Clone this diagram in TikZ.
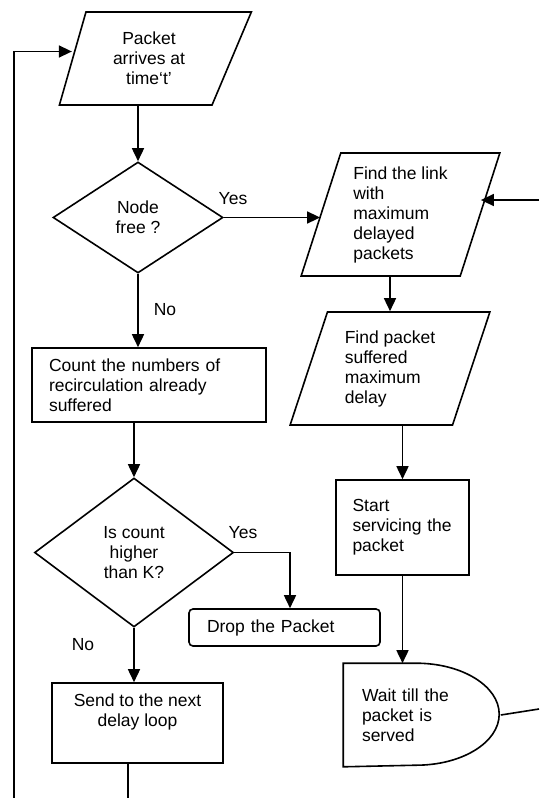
\documentclass[tikz,border=0pt]{standalone}
\usepackage{fontspec}
\setmainfont{Liberation Sans}
\usepackage{tikz}
\usetikzlibrary{shapes.geometric,arrows.meta}

\tikzset{
	arr/.style={-{Triangle[length=13pt,width=12pt]}},
	iobox/.style={draw,trapezium,trapezium left angle=72,trapezium right angle=108,trapezium stretches=true,inner sep=0pt,align=left},
	procbox/.style={draw,rectangle,inner sep=0pt,align=left},
	decision/.style={draw,diamond,inner sep=0pt,align=center}
}

\begin{document}
\begin{tikzpicture}[x=1pt,y=-1pt,line width=1.6pt,font=\fontsize{17.5pt}{20pt}\selectfont]
		\useasboundingbox (0,0) rectangle (539,798);
		\node[iobox,align=center,trapezium left angle=74,trapezium right angle=113,minimum width=192pt,minimum height=93pt] (arrive) at (149,58.5) {Packet\\arrives at\\time‘t’};
		\node[decision,minimum width=170pt,minimum height=111pt] (free) at (138,217.5) {Node\\free ?};
		\node[procbox,minimum width=234pt,minimum height=74pt,text width=200pt] (count) at (149,385) {Count the numbers of\\recirculation already\\suffered};
		\node[decision,minimum width=199pt,minimum height=149pt] (check) at (134,552.5) {Is count\\higher\\than K?};
		\node[procbox,rounded corners=4pt,minimum width=191pt,minimum height=37pt,text width=155pt] (drop) at (284.5,627.5) {Drop the Packet};
		\node[procbox,align=center,minimum width=171pt,minimum height=80pt] (send) at (137.5,723) {Send to the next\\delay loop\\\strut};
		\node[iobox,minimum width=199pt,minimum height=123pt] (link) at (400.5,214.5) {Find the link\\with\\maximum\\delayed\\packets};
		\node[iobox,trapezium left angle=70.5,trapezium right angle=109.5,minimum width=200pt,minimum height=113pt] (findpkt) at (390,368.5) {Find packet\\suffered\\maximum\\delay};
		\node[procbox,minimum width=133pt,minimum height=95pt,text width=100pt] (start) at (402.5,527.5) {Start\\servicing the\\packet};
		\node[inner sep=0pt,minimum width=156pt,minimum height=102pt,text width=120pt,align=left] (wait) at (422,715) {Wait till the\\packet is\\served};
		\draw (wait.north west) -- ++(73,0) arc[start angle=90,end angle=-90,x radius=83pt,y radius=51pt] -- (wait.south west) -- cycle;
		\node (yes1) at (233,199) {Yes};
		\node (no1) at (165,310) {No};
		\node (yes2) at (243,533) {Yes};
		\node (no2) at (83,645) {No};
		\coordinate (loopend) at (14,798);
		\coordinate (sendend) at (128,798);
		\coordinate (linkin) at (539,200);
		\coordinate (waitout) at (539,709);
		\draw[arr] (arrive.south -| free.north) -- (free.north);
		\draw[arr] (free.south) -- (free.south |- count.north);
		\draw[arr] (free.east) -- (free.east -| link.west);
		\draw[arr] (check.north |- count.south) -- (check.north);
		\draw[arr] (check.east) -| ([xshift=5.5pt]drop.north);
		\draw[arr] (check.south) -- (check.south |- send.north);
		\draw (send.south -| sendend) -- (sendend);
		\draw[arr] (loopend) |- ([yshift=7pt]arrive.west);
		\draw[arr] (link.south -| findpkt.north) -- (findpkt.north);
		\draw[arr] (start.north |- findpkt.south) -- (start.north);
		\draw[arr] (start.south) -- (start.south |- wait.north);
		\draw[arr] (linkin) -- (linkin -| link.east);
		\draw (wait.east) -- (waitout);
	\end{tikzpicture}
\end{document}
